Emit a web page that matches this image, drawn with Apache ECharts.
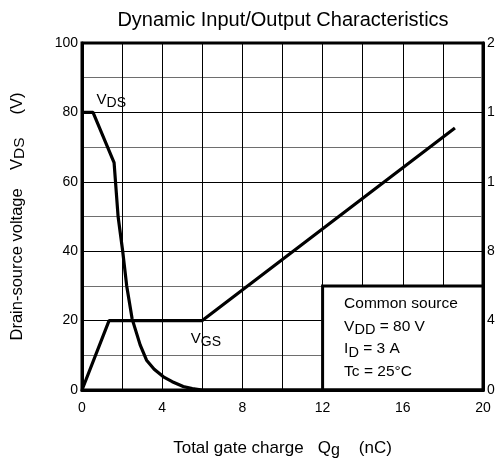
<!DOCTYPE html>
<html>
<head>
<meta charset="utf-8">
<script src="https://cdn.jsdelivr.net/npm/echarts@6/dist/echarts.min.js"></script>
<style>
  html, body { margin: 0; padding: 0; background: #fff; }
  #chart { width: 495px; height: 458px; }
</style>
</head>
<body>
<div id="chart"></div>
<script>
// V_DS curve (left axis, V) vs total gate charge (nC)
var vdsQ = [0, 0.55, 1.6, 1.8, 2.03, 2.23, 2.5, 2.9, 3.22, 3.6, 4.06, 4.5, 5.05, 5.5, 6, 20];
var vdsV = [80, 80, 65.5, 50, 40, 30, 20.5, 13, 8.6, 6, 3.8, 2.4, 1, 0.4, 0, 0];
// V_GS curve (right axis, V)
var vgsQ = [0, 1.35, 6, 18.6];
var vgsV = [0, 4, 4, 15.1];

var xTicks = [0, 4, 8, 12, 16, 20];
var leftTicks = [0, 20, 40, 60, 80, 100];
var rightTicks = [0, 4, 8, 12, 16, 20];

var FONT = "'Liberation Sans', Arial, sans-serif";

function pairs(xs, ys) {
  var out = [];
  for (var i = 0; i < xs.length; i++) out.push([xs[i], ys[i]]);
  return out;
}

// rich styles: normal text + lowered subscript
function richText(size, lh) {
  return {
    t: { fontFamily: FONT, fontSize: size, color: "#000", lineHeight: lh, verticalAlign: "middle" },
    s: { fontFamily: FONT, fontSize: size - 1, color: "#000", lineHeight: size - 1, verticalAlign: "bottom" }
  };
}

var myChart = echarts.init(document.getElementById("chart"), null, { renderer: "canvas" });

var option = {
  animation: false,
  backgroundColor: "#fff",
  textStyle: { fontFamily: FONT, color: "#000" },
  graphic: [
    {
      type: "text",
      x: 283,
      y: 20,
      style: {
        text: "Dynamic Input/Output Characteristics",
        fontFamily: FONT,
        fontSize: 20,
        fill: "#000",
        align: "center",
        verticalAlign: "middle"
      }
    }
  ],
  grid: {
    left: 82,
    right: 12,
    top: 43,
    bottom: 68,
    outerBoundsMode: "none",
    containLabel: false,
    show: true,
    borderColor: "#000",
    borderWidth: 3,
    backgroundColor: "transparent"
  },
  xAxis: {
    type: "value",
    min: xTicks[0],
    max: xTicks[xTicks.length - 1],
    interval: xTicks[1] - xTicks[0],
    name: "{t|Total gate charge   Q}{s|g}{t|    (nC)}",
    nameLocation: "middle",
    nameGap: 47,
    nameTextStyle: { rich: richText(17, 22) },
    axisLine: { lineStyle: { color: "#000", width: 3 } },
    axisTick: { show: false },
    axisLabel: { color: "#000", fontSize: 14, fontFamily: FONT, margin: 11 },
    splitLine: { show: true, lineStyle: { color: "#000", width: 1 } },
    minorTick: { show: false, splitNumber: 2 },
    minorSplitLine: { show: true, lineStyle: { color: "#000", width: 1 } }
  },
  yAxis: [
    {
      type: "value",
      min: leftTicks[0],
      max: leftTicks[leftTicks.length - 1],
      interval: leftTicks[1] - leftTicks[0],
      name: "{t|Drain-source voltage    V}{s|DS}{t|     (V)}",
      nameLocation: "middle",
      nameRotate: 90,
      nameGap: 54,
      nameTextStyle: { rich: richText(16.5, 22) },
      axisLine: { show: true, lineStyle: { color: "#000", width: 3 } },
      axisTick: { show: false },
      axisLabel: { color: "#000", fontSize: 14, fontFamily: FONT, margin: 4 },
      splitLine: { show: true, lineStyle: { color: "#000", width: 1 } },
      minorTick: { show: false, splitNumber: 2 },
      minorSplitLine: { show: true, lineStyle: { color: "#6e6e6e", width: 1 } }
    },
    {
      type: "value",
      position: "right",
      min: rightTicks[0],
      max: rightTicks[rightTicks.length - 1],
      interval: rightTicks[1] - rightTicks[0],
      axisLine: { show: true, lineStyle: { color: "#000", width: 3 } },
      axisTick: { show: false },
      axisLabel: { color: "#000", fontSize: 14, fontFamily: FONT, margin: 4 },
      splitLine: { show: false }
    }
  ],
  series: [
    {
      name: "VDS",
      type: "line",
      yAxisIndex: 0,
      data: pairs(vdsQ, vdsV),
      symbol: "none",
      smooth: false,
      lineStyle: { color: "#000", width: 3.2 },
      z: 5,
      markArea: {
        silent: true,
        itemStyle: { color: "#fff", borderColor: "#000", borderWidth: 3 },
        label: {
          show: true,
          position: "insideLeft",
          distance: 23,
          formatter:
            "{t|Common source}\n{t|V}{s|DD}{t| = 80 V}\n{t|I}{s|D}{t| = 3 A}\n{t|Tc = 25°C}",
          rich: richText(15.5, 22.5)
        },
        data: [[{ coord: [12, 0] }, { coord: [20, 30] }]]
      },
      markPoint: {
        silent: true,
        symbol: "rect",
        symbolSize: 1,
        itemStyle: { color: "transparent" },
        label: {
          show: true,
          position: "right",
          distance: 0,
          rich: richText(15, 20)
        },
        data: [
          { coord: [0.7, 83.6], label: { formatter: "{t|V}{s|DS}" } },
          { coord: [5.4, 14.7], label: { formatter: "{t|V}{s|GS}" } }
        ]
      }
    },
    {
      name: "VGS",
      type: "line",
      yAxisIndex: 1,
      data: pairs(vgsQ, vgsV),
      symbol: "none",
      smooth: false,
      lineStyle: { color: "#000", width: 3.2 },
      z: 5
    }
  ]
};

myChart.setOption(option);
window.addEventListener("resize", function () {
  myChart.resize();
});
</script>
</body>
</html>
